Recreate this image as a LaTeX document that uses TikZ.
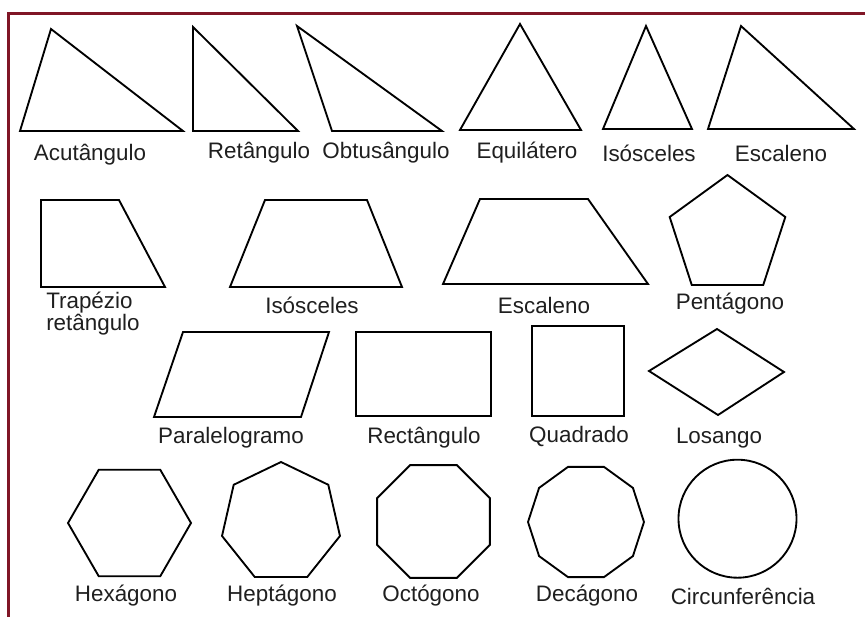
\documentclass[tikz,border=0pt]{standalone}
\usepackage{fontspec}
\setmainfont{Liberation Sans}
\begin{document}
\begin{tikzpicture}[x=0.75pt,y=-0.75pt,
  fig/.style={draw=black,line width=1.4pt,line join=miter},
  lbl/.style={font=\fontsize{16.8}{19}\selectfont,text=black!88,inner sep=0pt,anchor=center},
  frame/.style={draw={rgb,255:red,128;green,22;blue,38},line width=2.2pt}]
\useasboundingbox (0,0) rectangle (865,617);
\fill[white] (0,0) rectangle (865,617);
% frame
\draw[frame] (8.5,617) -- (8.5,13.5) -- (865,13.5);
% row 1: triangles
\draw[fig] (20,131) -- (51,29) -- (183,131) -- cycle;
\draw[fig] (193,27) -- (193,131) -- (298,131) -- cycle;
\draw[fig] (297,26) -- (332,131) -- (442,131) -- cycle;
\draw[fig] (460,130) -- (520,24) -- (581,130) -- cycle;
\draw[fig] (603,129) -- (646,26) -- (692,129) -- cycle;
\draw[fig] (708,129) -- (741,26) -- (854,129) -- cycle;
\node[lbl] (l1) at (90,155) {Acutângulo};
\node[lbl] (l2) at (259,153) {Retângulo};
\node[lbl] (l3) at (386,153) {Obtusângulo};
\node[lbl] (l4) at (527,153) {Equilátero};
\node[lbl] (l5) at (649,153) {Isósceles};
\node[lbl] (l6) at (781,153) {Escaleno};
% row 2
\draw[fig] (41,200) -- (119,200) -- (165,287) -- (41,287) -- cycle;
\draw[fig] (265,200) -- (367,200) -- (402,287) -- (230,287) -- cycle;
\draw[fig] (480,199) -- (588,199) -- (648,284) -- (443,284) -- cycle;
\draw[fig] plot[samples at={0,...,4}] ({727.5+60.8*cos(90+\x*72)},{235.8-60.8*sin(90+\x*72)}) -- cycle;
\node[lbl,anchor=west] (l7) at (46,303) {Trapézio};
\node[lbl,anchor=west] (l7b) at (46,325) {retângulo};
\node[lbl] (l8) at (312,305) {Isósceles};
\node[lbl] (l9) at (544,305) {Escaleno};
\node[lbl] (l10) at (730,304) {Pentágono};
% row 3
\draw[fig] (183,332) -- (329,332) -- (301,417) -- (154,417) -- cycle;
\draw[fig] (356,332) rectangle (491,416);
\draw[fig] (532,326) rectangle (624,416);
\draw[fig] (649,371) -- (717,329) -- (784,372) -- (718,415) -- cycle;
\node[lbl] (l11) at (231,438) {Paralelogramo};
\node[lbl] (l12) at (424,438) {Rectângulo};
\node[lbl] (l13) at (579,436) {Quadrado};
\node[lbl] (l14) at (719,438) {Losango};
% row 4
\draw[fig] plot[samples at={0,...,5}] ({129.5+61.5*cos(\x*60)},{523-61.5*sin(\x*60)}) -- cycle;
\draw[fig] plot[samples at={0,...,6}] ({281+60.5*cos(90+\x*360/7)},{522.5-60.5*sin(90+\x*360/7)}) -- cycle;
\draw[fig] plot[samples at={0,...,7}] ({433.5+61*cos(22.5+\x*45)},{521.5-61*sin(22.5+\x*45)}) -- cycle;
\draw[fig] plot[samples at={0,...,9}] ({586+58*cos(\x*36)},{522-58*sin(\x*36)}) -- cycle;
\draw[fig] (737.5,518.7) circle[radius=59];
\node[lbl] (l15) at (126,596) {Hexágono};
\node[lbl] (l16) at (282,596) {Heptágono};
\node[lbl] (l17) at (431,596) {Octógono};
\node[lbl] (l18) at (587,596) {Decágono};
\node[lbl] (l19) at (743,596) {Circunferência};
\end{tikzpicture}
\end{document}
